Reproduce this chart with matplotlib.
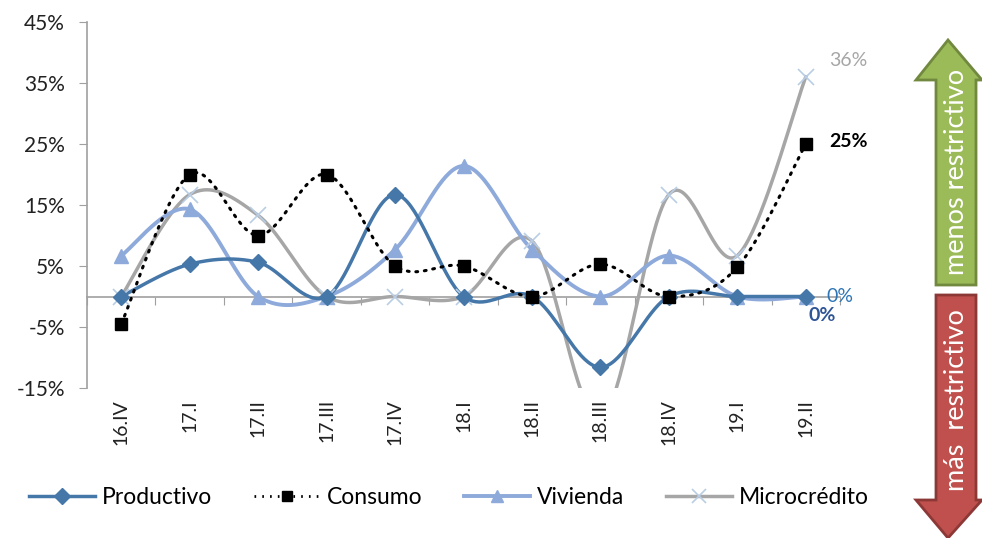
"""Cambio en estándares de crédito por cartera, 16.IV - 19.II."""

import matplotlib.pyplot as plt
import numpy as np
from matplotlib.patches import Polygon

W, H = 982, 538
plt.rcParams.update({"font.family": ["Lato", "DejaVu Sans"], "figure.dpi": 100})

PERIODS = ["16.IV", "17.I", "17.II", "17.III", "17.IV", "18.I",
           "18.II", "18.III", "18.IV", "19.I", "19.II"]
PRODUCTIVO = [0.0, 5.3, 5.6, 0.0, 16.7, 0.0, 0.0, -11.6, 0.0, 0.0, 0.0]
CONSUMO = [-4.5, 20.0, 10.0, 20.0, 5.0, 5.0, 0.0, 5.3, 0.0, 4.8, 25.0]
VIVIENDA = [6.7, 14.3, 0.0, 0.0, 7.7, 21.4, 7.7, 0.0, 6.7, 0.0, 0.0]
MICRO = [0.0, 16.7, 13.3, 0.0, 0.0, 0.0, 9.1, -20.0, 16.7, 6.7, 36.0]
Y_TICKS = [-15, -5, 5, 15, 25, 35, 45]

C_PROD = "#4677A9"
C_VIV = "#8EAADB"
C_MICRO = "#A6A6A6"


def smooth(y, n=40):
    """Excel-style smoothed line: cubic Bezier, control points at 1/6 of neighbour span."""
    x = np.arange(len(y), dtype=float)
    p = np.column_stack([x, np.asarray(y, float)])
    pts = []
    for i in range(len(p) - 1):
        p0 = p[i - 1] if i > 0 else p[i]
        p3 = p[i + 2] if i + 2 < len(p) else p[i + 1]
        c1 = p[i] + (p[i + 1] - p0) / 6
        c2 = p[i + 1] - (p3 - p[i]) / 6
        t = np.linspace(0, 1, n)[:, None]
        seg = ((1 - t) ** 3 * p[i] + 3 * (1 - t) ** 2 * t * c1
               + 3 * (1 - t) * t ** 2 * c2 + t ** 3 * p[i + 1])
        pts.append(seg if i == 0 else seg[1:])
    pts = np.vstack(pts)
    return pts[:, 0], pts[:, 1]


def px(x, y):
    return x / W, 1 - y / H


fig = plt.figure(figsize=(W / 100, H / 100))
ax = fig.add_axes([87 / W, 1 - 388 / H, (840 - 87) / W, (388 - 22) / H])

xs = np.arange(len(PERIODS))
series = [
    (MICRO, dict(color=C_MICRO, lw=2.5), dict(marker="x", color="#B9CDE5", ms=11, mew=1.2)),
    (VIVIENDA, dict(color=C_VIV, lw=2.8), dict(marker="^", color=C_VIV, ms=10)),
    (PRODUCTIVO, dict(color=C_PROD, lw=2.5), dict(marker="D", color=C_PROD, ms=8)),
    (CONSUMO, dict(color="black", lw=2.2, ls=(0, (0.6, 2.2)), dash_capstyle="round"),
     dict(marker="s", color="black", ms=8)),
]
for vals, lstyle, mstyle in series:
    sx, sy = smooth(vals)
    ax.plot(sx, sy, zorder=3, **lstyle)
    ax.plot(xs, vals, ls="none", zorder=4, **mstyle)

ax.set_xlim(-0.5, len(PERIODS) - 0.5)
ax.set_ylim(-15, 45)
ax.set_yticks(Y_TICKS)
ax.set_yticklabels([f"{v}%" for v in Y_TICKS], fontsize=15, color="#222222")
ax.tick_params(axis="y", length=6, color="#A0A0A0", pad=10)

ax.set_xticks(xs)
ax.set_xticklabels(PERIODS, rotation=90, fontsize=14, color="#222222")
ax.tick_params(axis="x", length=0, pad=8)

for s in ("top", "right", "bottom"):
    ax.spines[s].set_visible(False)
ax.spines["left"].set_color("#A0A0A0")
ax.spines["left"].set_linewidth(1.2)

# zero line with category boundary ticks
zax = ax.secondary_xaxis(15 / 60)
zax.set_xticks(np.arange(len(PERIODS) + 1) - 0.5)
zax.set_xticklabels([])
zax.tick_params(length=6, color="#A0A0A0", direction="out")
zax.spines["bottom"].set_color("#A0A0A0")
zax.spines["bottom"].set_linewidth(1.2)

last = len(PERIODS) - 1
label_kw = dict(textcoords="offset points", fontsize=14, va="center",
                annotation_clip=False)
ax.annotate(f"{MICRO[-1]:.0f}%", (last, MICRO[-1]), xytext=(17, 12),
            color="#A6A6A6", **label_kw)
ax.annotate(f"{CONSUMO[-1]:.0f}%", (last, CONSUMO[-1]), xytext=(17, 2),
            color="black", fontweight="bold", **label_kw)
ax.annotate(f"{VIVIENDA[-1]:.0f}%", (last, VIVIENDA[-1]), xytext=(15, 0),
            color="#2E75B6", **label_kw)
ax.annotate(f"{PRODUCTIVO[-1]:.0f}%", (last, PRODUCTIVO[-1]), xytext=(2, -14),
            color="#2F5597", fontweight="bold", **label_kw)

# legend
handles = [
    plt.Line2D([], [], color=C_PROD, lw=2.5, marker="D", ms=8),
    plt.Line2D([], [], color="black", lw=2, ls=(0, (0.6, 2.2)), marker="s", ms=7),
    plt.Line2D([], [], color=C_VIV, lw=2.8, marker="^", ms=9),
    plt.Line2D([], [], color=C_MICRO, lw=2.5, marker="x", ms=10,
               mec="#B9CDE5", mew=1.2),
]
fig.legend(handles, ["Productivo", "Consumo", "Vivienda", "Microcrédito"],
           loc="center", bbox_to_anchor=(449 / W, 1 - 498 / H), ncol=4,
           frameon=False, fontsize=16.5, handlelength=2.9, columnspacing=1.8,
           handletextpad=0.3)

# direction arrows
green = [(936, 285), (936, 80), (916, 80), (948, 40), (982, 80), (976, 80),
         (976, 285)]
red = [(936, 295), (936, 500), (916, 500), (948, 538), (982, 500), (976, 500),
       (976, 295)]
fig.add_artist(Polygon([px(*p) for p in green], closed=True, fc="#9BBB59",
                       ec="#71893F", lw=2, transform=fig.transFigure))
fig.add_artist(Polygon([px(*p) for p in red], closed=True, fc="#C0504D",
                       ec="#8C3836", lw=2, transform=fig.transFigure))
fig.text(*px(957, 172), "menos restrictivo", rotation=90, color="white",
         fontsize=19.5, ha="center", va="center")
fig.text(*px(957, 400), "más  restrictivo", rotation=90, color="white",
         fontsize=19.5, ha="center", va="center")

fig.savefig("out.png")
